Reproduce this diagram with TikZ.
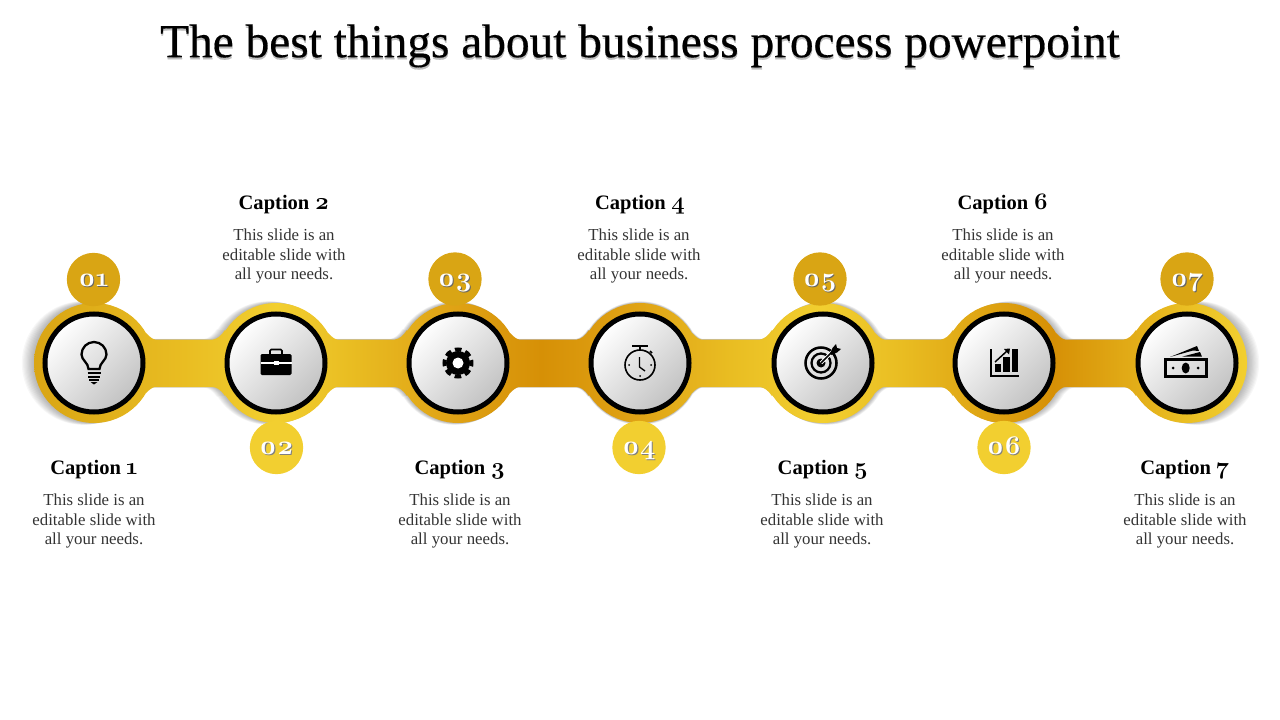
\documentclass[tikz,border=0pt]{standalone}
\usepackage{fontspec}
\setmainfont{Liberation Serif}
\newfontfamily\titlefont[FakeBold=0.35]{Liberation Serif}
\newfontfamily\numfont[Numbers=OldStyle,Scale=1.16]{Latin Modern Roman}

\definecolor{GoldA}{HTML}{D9A514}
\definecolor{GoldB}{HTML}{F2CF30}
\definecolor{GoldC}{HTML}{D69006}
\definecolor{GoldD}{HTML}{E9BD22}
\definecolor{GoldE}{HTML}{E0A416}
\definecolor{BodyGray}{HTML}{333333}

\pgfdeclarehorizontalshading{bandshade}{100bp}{
  color(0bp)=(GoldA); color(25bp)=(GoldA); color(31.2bp)=(GoldD); color(35bp)=(GoldB);
  color(38bp)=(GoldD); color(42bp)=(GoldE); color(45.9bp)=(GoldC); color(50bp)=(GoldE);
  color(53.7bp)=(GoldD); color(57.5bp)=(GoldB); color(60.7bp)=(GoldD); color(67bp)=(GoldC);
  color(72.2bp)=(GoldD); color(75bp)=(GoldB); color(100bp)=(GoldB)}

\newcommand{\neck}[2]{(#1+52,333) .. controls (#1+55,336) and (#1+58,339) .. (#1+61,339.5)
  -- (#2-63,339.5) .. controls (#2-59,339) and (#2-55,336) .. (#2-51,330)
  -- (#2-51,396) .. controls (#2-55,390) and (#2-59,387.5) .. (#2-63,387)
  -- (#1+61,387) .. controls (#1+58,387.5) and (#1+55,390) .. (#1+52,393) -- cycle}
\newcommand{\bandshape}{
  (94,363) circle[radius=60] (276,363) circle[radius=60] (458,363) circle[radius=60]
  (640,363) circle[radius=60] (823,363) circle[radius=60] (1004,363) circle[radius=60]
  (1187,363) circle[radius=60]
  \neck{94}{276} \neck{276}{458} \neck{458}{640} \neck{640}{823} \neck{823}{1004} \neck{1004}{1187}}
\newcommand{\bandblur}[2]{\begin{scope}[shift={(640,363)},xscale=#1,yscale=#2,shift={(-640,-363)}]
  \fill[black,opacity=.032] \bandshape;
  \end{scope}}
\newcommand{\softtext}[2]{\rlap{\kern.8pt\raisebox{-.8pt}{\color{#1}#2}}#2}
\newcommand{\badgetext}[2]{\raisebox{-5.5pt}[0pt][0pt]{\softtext{#1}{#2}}}
\newcommand{\titletext}[1]{\rlap{\kern.25pt\raisebox{-1.6pt}{\color{black!26}#1}}#1}
\newcommand{\capnum}[1]{{\numfont\bfseries #1}}

\tikzset{
  hub/.style={circle,draw=black,line width=3.75pt,minimum size=73.5pt,inner sep=0pt,
    top color=white,bottom color=black!24,shading angle=45},
  badgedark/.style={circle,fill=GoldA,minimum size=40pt,inner sep=0pt,text=white,
    font=\numfont\bfseries\fontsize{17.5}{17}\selectfont},
  badgelight/.style={badgedark,fill=GoldB},
  captext/.style={text height=10.5pt,text depth=3.5pt,font=\bfseries\fontsize{15.4}{17}\selectfont},
  bodytext/.style={align=center,text=BodyGray,font=\fontsize{12.6}{14.6}\selectfont}
}

\begin{document}
\begin{tikzpicture}[x=.75pt,y=-.75pt]
  \useasboundingbox (0,0) rectangle (1280,720);

  \node[font=\titlefont\fontsize{35.5}{40}\selectfont] (Title) at (640,47) {\titletext{The best things about business process powerpoint}};

  \bandblur{1.002}{1.003}
  \bandblur{1.004}{1.006}
  \bandblur{1.006}{1.009}
  \bandblur{1.008}{1.012}
  \bandblur{1.010}{1.015}
  \bandblur{1.012}{1.018}
  \bandblur{1.014}{1.021}
  \bandblur{1.016}{1.024}
  \bandblur{1.018}{1.027}
  \bandblur{1.020}{1.030}
  \shade[shading=bandshade] \bandshape;

  \node[hub] (H1) at (94,363) {};
  \node[hub] (H2) at (276,363) {};
  \node[hub] (H3) at (458,363) {};
  \node[hub] (H4) at (640,363) {};
  \node[hub] (H5) at (823,363) {};
  \node[hub] (H6) at (1004,363) {};
  \node[hub] (H7) at (1187,363) {};

  \node[badgedark] (B1) at (93.5,279.5) {\badgetext{black!60}{01}};
  \node[badgelight] (B2) at (276.5,447.5) {\badgetext{black!50}{02}};
  \node[badgedark] (B3) at (455,279) {\badgetext{black!60}{03}};
  \node[badgelight] (B4) at (639,447.5) {\badgetext{black!50}{04}};
  \node[badgedark] (B5) at (820,279) {\badgetext{black!60}{05}};
  \node[badgelight] (B6) at (1004,447.5) {\badgetext{black!50}{06}};
  \node[badgedark] (B7) at (1187,279) {\badgetext{black!60}{07}};

  \node[captext] (C1) at (94,469.5) {Caption \capnum{1}};
  \node[captext] (C2) at (284,204.5) {Caption \capnum{2}};
  \node[captext] (C3) at (460,469.5) {Caption \capnum{3}};
  \node[captext] (C4) at (640,204.5) {Caption \capnum{4}};
  \node[captext] (C5) at (823,469.5) {Caption \capnum{5}};
  \node[captext] (C6) at (1003,204.5) {Caption \capnum{6}};
  \node[captext] (C7) at (1185,469.5) {Caption \capnum{7}};

  \node[bodytext] (T1) at (94,521) {This slide is an\\editable slide with\\all your needs.};
  \node[bodytext] (T2) at (284,256) {This slide is an\\editable slide with\\all your needs.};
  \node[bodytext] (T3) at (460,521) {This slide is an\\editable slide with\\all your needs.};
  \node[bodytext] (T4) at (639,256) {This slide is an\\editable slide with\\all your needs.};
  \node[bodytext] (T5) at (822,521) {This slide is an\\editable slide with\\all your needs.};
  \node[bodytext] (T6) at (1003,256) {This slide is an\\editable slide with\\all your needs.};
  \node[bodytext] (T7) at (1185,521) {This slide is an\\editable slide with\\all your needs.};

  \begin{scope}[shift={(H1)}]
    \draw[line width=1.7pt] (-5.5,6) .. controls (-5.5,0) and (-12.5,-3) .. (-12.5,-8.5)
      arc[start angle=180,end angle=360,radius=12.5]
      .. controls (12.5,-3) and (5.5,0) .. (5.5,6) -- cycle;
    \draw[line width=1.5pt] (-6.5,9.5) -- (6.5,9.5) (-6,13.5) -- (6,13.5) (-5,17) -- (5,17);
    \fill (-3.5,19) -- (3.5,19) -- (0,21.5) -- cycle;
  \end{scope}

  \begin{scope}[shift={(H2)}]
    \fill[rounded corners=1pt] (-15.5,-9) rectangle (15.5,12);
    \draw[line width=1.2pt,rounded corners=1pt] (-6,-9) -- (-6,-13.5) -- (6,-13.5) -- (6,-9);
    \draw[white,line width=.8pt] (-15.5,0) -- (15.5,0);
    \fill[white] (-2.5,-2) rectangle (2.5,2);
  \end{scope}

  \begin{scope}[shift={(H3)}]
    \fill (0,0) circle[radius=12];
    \draw[line width=3pt,dash pattern=on 4.8pt off 3.15pt,dash phase=2.4pt] (0,0) circle[radius=13.5];
    \fill[white] (0,0) circle[radius=5.5];
  \end{scope}

  \begin{scope}[shift={(H4)}]
    \draw[line width=1.2pt] (0,2) circle[radius=15];
    \draw[line width=1.6pt] (-8,-17) -- (8,-17);
    \draw[line width=1.6pt] (0,-17) -- (0,-13);
    \draw[line width=1.2pt] (10,-12) -- (12,-10);
    \draw[line width=1pt] (-.5,-6) -- (-.5,4) -- (5,8);
    \fill (-11,2) circle[radius=1] (11,2) circle[radius=1] (0,13) circle[radius=1];
  \end{scope}

  \begin{scope}[shift={(H5)}]
    \draw[line width=1.9pt] (-2,0) circle[radius=15.5];
    \draw[line width=1.7pt] (-2,0) circle[radius=9.5];
    \fill (-2,0) circle[radius=4.5];
    \draw[white,line width=2.6pt] (-2,0) -- (12,-14);
    \draw[line width=1.1pt] (-2,0) -- (10,-12);
    \fill (7,-9.5) -- (9.5,-15) -- (13,-19) -- (14,-15) -- (18,-14) -- (14,-10.5) -- (8.5,-8) -- cycle;
  \end{scope}

  \begin{scope}[shift={(H6)}]
    \draw[line width=1.5pt] (-13,-14) -- (-13,13) -- (14.5,13);
    \fill (-9.5,1) rectangle (-3,9);
    \fill (-1,-6) rectangle (5.5,9);
    \fill (8,-14) rectangle (14,9);
    \draw[line width=1.1pt] (-9,-1) -- (3,-12);
    \fill (0,-14) -- (6,-14.5) -- (5,-8.5) -- cycle;
  \end{scope}

  \begin{scope}[shift={(H7)}]
    \draw[line width=2.4pt] (-21.5,-3.5) rectangle (19.5,13.5);
    \fill (-1.3,5) ellipse[x radius=4,y radius=5.5];
    \fill (-14,5) circle[radius=1.5] (11,5) circle[radius=1.5];
    \fill (-17,-6) -- (10,-17) -- (12,-12) -- (6,-12.5) -- cycle;
    \fill (-5,-6.3) -- (13,-11) -- (15,-6.3) -- cycle;
  \end{scope}
\end{tikzpicture}
\end{document}
